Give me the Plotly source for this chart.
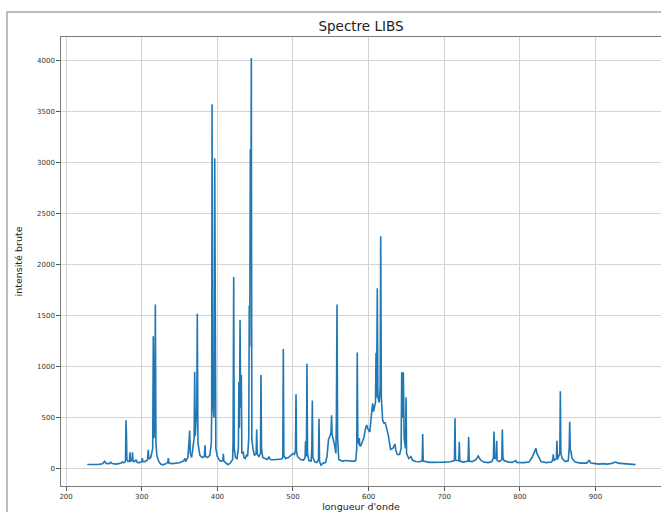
import plotly.graph_objects as go

# ---- Data: (wavelength nm, raw intensity) ----
seg_228_300 = [
    (228, 42), (235, 40), (242, 42), (248, 48), (251, 72), (253, 52), (257, 50),
    (259, 62), (261, 50), (266, 45), (270, 48), (273, 55), (274.3, 68), (276, 58),
    (278.5, 70), (279.2, 475), (279.8, 340), (280.4, 90), (282, 70), (283.8, 75),
    (284.4, 160), (285.2, 75), (287.2, 80), (287.8, 160), (288.5, 80), (290, 70),
    (292.4, 85), (294, 62), (297, 60), (300, 68), (300.8, 105), (301.5, 70),
]
seg_300_400 = [
    (304, 70), (307.5, 85), (308.7, 185), (309.5, 95), (312, 110), (314.5, 200),
    (315.3, 1300), (316.2, 300), (317.3, 450), (318.0, 1610), (318.8, 250),
    (320, 130), (322, 80), (325, 45), (328, 38), (331, 45), (334.3, 60),
    (335.2, 105), (336, 55), (340, 50), (345, 55), (350, 58), (355, 75),
    (357.2, 100), (358, 70), (361, 110), (362.7, 280), (363.4, 375), (364.2, 150),
    (366, 110), (369.3, 300), (370.0, 950), (370.7, 320), (372.8, 600),
    (373.5, 1520), (374.3, 250), (377, 130), (380, 110), (382.8, 120),
    (383.6, 230), (384.4, 120), (387, 110), (390, 130), (392, 250), (392.5, 550),
    (393.0, 3575), (393.6, 700), (395.5, 500), (396.5, 3045), (397.2, 350),
    (398, 200), (400, 120),
]
seg_400_515 = [
    (403, 80), (405, 75), (407.2, 80), (407.9, 145), (408.6, 75), (411, 60),
    (414, 40), (417, 55), (420.2, 90), (420.8, 280), (421.6, 1880), (422.3, 200),
    (424, 110), (426, 100), (427.8, 200), (428.5, 850), (429.2, 400),
    (430.0, 1460), (430.8, 600), (431.7, 920), (432.4, 150), (434.3, 160),
    (435.2, 110), (437, 100), (438.8, 140), (440, 120), (441.5, 300),
    (442.2, 1600), (442.8, 1200), (443.6, 3135), (444.2, 2000), (444.9, 4030),
    (445.6, 300), (447, 200), (449, 130), (451.3, 150), (452, 385), (452.8, 140),
    (455, 120), (457, 150), (457.7, 920), (458.4, 200), (460, 110), (463, 100),
    (466, 90), (468.3, 115), (470, 90), (475, 88), (480, 90), (485, 95),
    (486.5, 110), (487.2, 1175), (487.9, 130), (490, 100), (494, 110), (497, 130),
    (500, 150), (502, 140), (503.3, 180), (504.0, 730), (504.7, 170), (506, 120),
    (510, 90), (514, 85),
]
seg_515_640 = [
    (516, 110), (516.6, 270), (517.4, 120), (517.8, 200), (518.5, 1030),
    (519.2, 150), (521, 80), (524, 75), (524.9, 200), (525.6, 670), (526.3, 110),
    (529, 65), (531.5, 60), (533.7, 90), (534.4, 490), (535.1, 70), (537, 35),
    (540, 55), (543, 60), (545, 120), (547, 290), (549, 320), (550.3, 360),
    (551, 525), (551.7, 340), (553, 300), (555, 230), (556.7, 150), (557.4, 500),
    (558.2, 1610), (559, 300), (560.5, 90), (565, 75), (570, 80), (575, 78),
    (580, 72), (583, 80), (584.3, 200), (585.0, 1140), (585.7, 300), (587, 240),
    (587.7, 300), (588.4, 220), (590, 230), (592, 270), (594, 314), (596, 400),
    (597.5, 428), (599, 390), (601.5, 360), (604, 550), (605.4, 641),
    (606.5, 560), (607.5, 600), (609.1, 650), (609.8, 1137), (610.5, 700),
    (611.5, 1770), (612.3, 700), (614, 650), (615.3, 800), (616.0, 2280),
    (616.8, 700), (618.5, 480), (620, 450), (622, 450), (624, 400), (626, 330),
    (629, 190), (632, 200), (634.9, 242), (636, 180), (638, 140),
]
seg_640_955 = [
    (641, 140), (643, 200), (643.8, 945), (644.8, 500), (645.9, 945), (647, 300),
    (648.8, 200), (649.5, 700), (650.2, 150), (653, 100), (656, 120), (658, 85),
    (662, 70), (668, 68), (670.8, 80), (671.5, 340), (672.2, 75), (680, 62),
    (690, 60), (700, 65), (708, 68), (713.5, 80), (714.2, 495), (714.9, 90),
    (716, 80), (719.2, 80), (719.9, 265), (720.6, 75), (725, 65), (731.5, 75),
    (732.3, 310), (733, 75), (737, 70), (742, 90), (745, 125), (748, 85),
    (752, 65), (758, 60), (763, 70), (765, 110), (765.8, 365), (766.6, 100),
    (768.6, 100), (769.3, 275), (770, 80), (773, 70), (776.1, 90), (776.8, 385),
    (777.6, 110), (779, 80), (785, 65), (790, 62), (794.5, 80), (796, 62),
    (805, 60), (812, 65), (816, 110), (818, 140), (820, 170), (821.3, 200),
    (822.5, 150), (825, 110), (828, 70), (835, 60), (842, 65), (843.5, 90),
    (844.2, 140), (845, 80), (848.3, 100), (849, 275), (849.7, 90), (852.8, 150),
    (853.5, 760), (854.2, 150), (856, 100), (860, 70), (864, 80), (865.2, 200),
    (865.9, 460), (866.6, 180), (867.5, 170), (869, 100), (873, 65), (880, 55),
    (888, 55), (891.8, 80), (894, 55), (900, 50), (905, 45), (910, 50), (915, 45),
    (920, 50), (926.7, 65), (930, 55), (935, 50), (940, 48), (945, 45), (953, 40),
]

x_ticks = [200, 300, 400, 500, 600, 700, 800, 900]
y_ticks = [0, 500, 1000, 1500, 2000, 2500, 3000, 3500, 4000]

segments = [seg_228_300, seg_300_400, seg_400_515, seg_515_640, seg_640_955]
wavelength = [p[0] for s in segments for p in s]
intensity = [p[1] for s in segments for p in s]

FONT = "DejaVu Sans"

fig = go.Figure(
    go.Scatter(
        x=wavelength, y=intensity, mode="lines",
        line=dict(color="#1f77b4", width=1.6),
        hoverinfo="skip", showlegend=False,
    )
)

axis_common = dict(
    showline=True, linecolor="#7a7a7a", linewidth=1.2, mirror=True,
    showgrid=True, gridcolor="#d4d4d4", gridwidth=1, zeroline=False,
    ticks="outside", ticklen=3.5, tickwidth=1, tickcolor="#555555",
    tickfont=dict(family=FONT, size=7, color="#333333"),
)

fig.update_layout(
    width=661, height=512,
    margin=dict(l=61, r=0, t=37, b=26, pad=0),
    paper_bgcolor="white", plot_bgcolor="white",
    font=dict(family=FONT, color="#222222"),
    title=dict(
        text="Spectre LIBS", x=0.5, xref="paper", xanchor="center",
        y=1 - 26 / 512, yanchor="middle",
        font=dict(family=FONT, size=13.5, color="#222222"),
    ),
    xaxis=dict(
        range=[193.26, 986.6], tickvals=x_ticks,
        title=dict(text="longueur d'onde", standoff=2,
                   font=dict(family=FONT, size=9.5, color="#222222")),
        automargin=False, **axis_common,
    ),
    yaxis=dict(
        range=[-169.6, 4235], tickvals=y_ticks,
        title=dict(text="intensité brute", standoff=12,
                   font=dict(family=FONT, size=9.5, color="#222222")),
        automargin=False, **axis_common,
    ),
    shapes=[
        dict(type="rect", xref="paper", yref="paper",
             x0=(7 - 61) / 600, x1=1.05, y0=-0.2, y1=(486 - 12) / 449,
             line=dict(color="#a8a8a8", width=1.5), fillcolor="rgba(0,0,0,0)",
             layer="below"),
    ],
)

fig.write_html(
    "out.html",
    config={"displayModeBar": False, "staticPlot": True},
    post_script="document.body.style.margin='0';document.body.style.padding='0';",
)
